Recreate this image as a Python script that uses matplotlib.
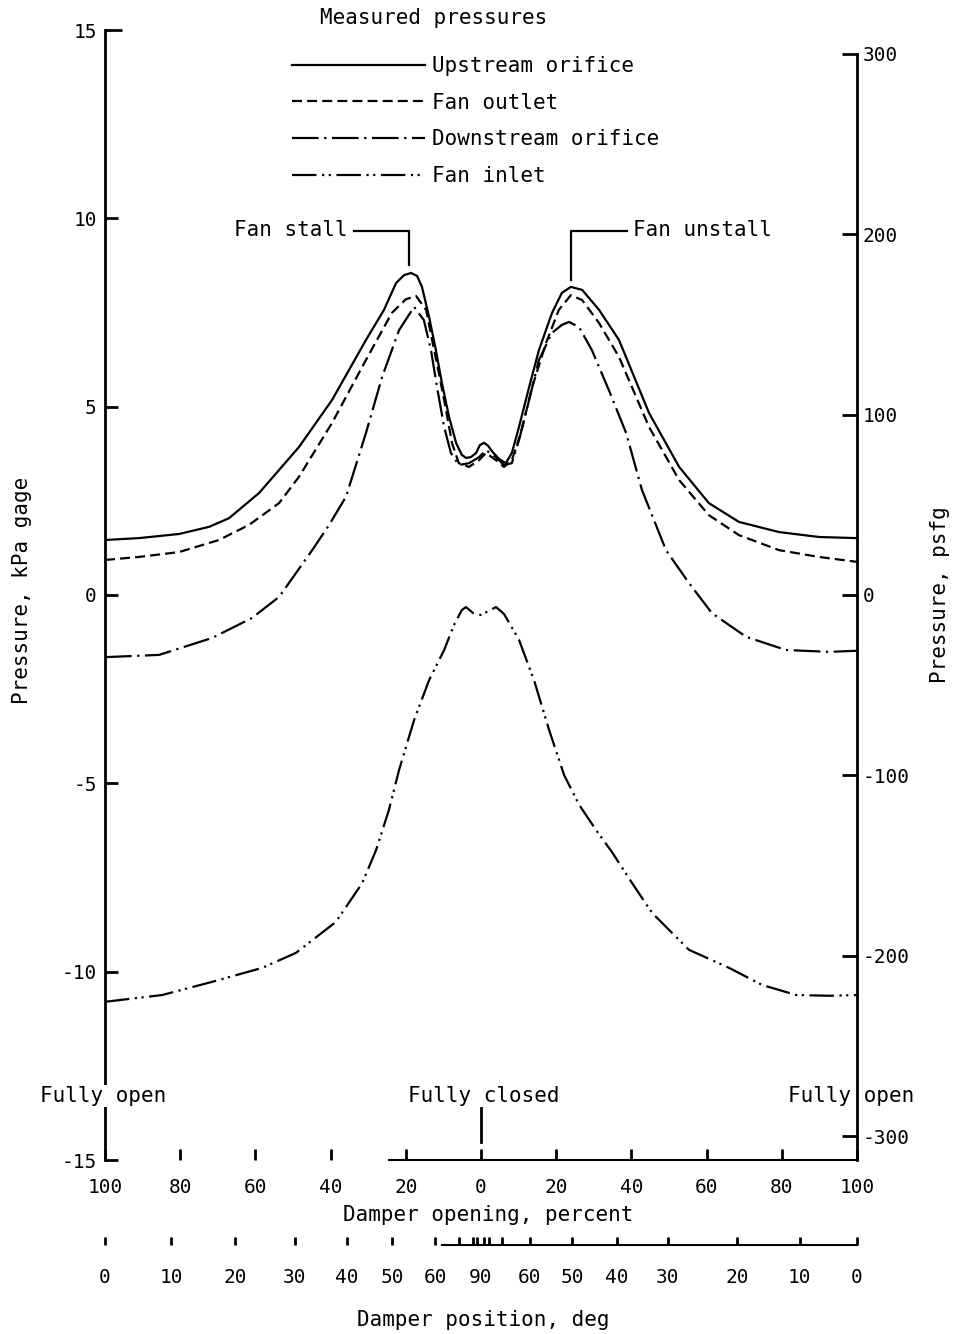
import matplotlib.pyplot as plt

plt.rcParams['font.family'] = ['DejaVu Sans Mono']
plt.rcParams['axes.unicode_minus'] = False

KPA_TO_PSF = 20.885

# damper opening, signed percent (left = opening side, right = closing back), pressures in kPa
upstream_x = [-100, -91.0, -80.3, -72.3, -67.0, -59.0, -48.4, -39.6, -30.6, -25.8,
              -22.6, -20.5, -18.6, -17.0, -15.7, -13.8, -12.0, -10.4, -8.5, -6.6,
              -5.1, -4.0, -2.7, -1.3, -0.3, 0.8, 1.9, 2.9, 4.8, 6.6,
              8.2, 10.1, 12.8, 15.4, 18.9, 21.5, 23.9, 26.9, 31.4, 36.7,
              44.7, 52.7, 60.6, 68.6, 79.3, 89.9, 100]
upstream_y = [1.46, 1.51, 1.62, 1.81, 2.04, 2.71, 3.93, 5.18, 6.77, 7.57,
              8.28, 8.49, 8.55, 8.47, 8.18, 7.38, 6.50, 5.63, 4.73, 4.03,
              3.72, 3.64, 3.66, 3.77, 3.98, 4.04, 3.96, 3.82, 3.61, 3.50,
              3.77, 4.46, 5.52, 6.50, 7.49, 8.02, 8.18, 8.10, 7.57, 6.77,
              4.83, 3.40, 2.44, 1.94, 1.67, 1.54, 1.51]

outlet_x = [-100, -91.0, -80.3, -69.7, -61.7, -53.7, -48.4, -39.6, -30.6, -23.7,
            -20.0, -17.3, -14.6, -13.0, -11.2, -9.3, -7.7, -5.9, -3.2, -0.5,
            1.3, 4.0, 6.1, 8.2, 10.6, 13.6, 17.3, 20.7, 23.9, 26.9,
            31.4, 36.7, 44.7, 52.7, 60.6, 68.6, 79.3, 89.9, 100]
outlet_y = [0.93, 1.01, 1.14, 1.46, 1.86, 2.44, 3.14, 4.57, 6.24, 7.49,
            7.85, 7.94, 7.57, 6.77, 5.89, 4.91, 4.03, 3.50, 3.40, 3.58,
            3.77, 3.58, 3.40, 3.58, 4.30, 5.52, 6.69, 7.57, 7.96, 7.83,
            7.22, 6.32, 4.46, 3.05, 2.12, 1.59, 1.19, 1.01, 0.88]

downstream_x = [-100, -85.6, -71.5, -60.9, -53.7, -44.9, -40.4, -35.9, -30.6, -26.3,
                -21.8, -17.8, -15.2, -13.3, -11.7, -9.8, -8.0, -5.9, -3.2, -0.5,
                1.3, 4.0, 6.1, 8.2, 10.1, 12.8, 15.4, 18.9, 21.5, 23.4,
                26.1, 29.5, 34.0, 38.6, 42.8, 46.0, 49.2, 55.3, 61.4, 70.5,
                81.1, 92.6, 100]
downstream_y = [-1.65, -1.59, -1.14, -0.61, -0.05, 1.19, 1.86, 2.61, 4.30, 5.79,
                7.03, 7.65, 7.30, 6.50, 5.52, 4.46, 3.77, 3.45, 3.50, 3.66,
                3.85, 3.66, 3.45, 3.50, 4.11, 5.18, 6.24, 6.96, 7.17, 7.25,
                7.11, 6.50, 5.44, 4.30, 2.79, 1.99, 1.19, 0.32, -0.48, -1.11,
                -1.46, -1.51, -1.48]

inlet_x = [-100, -84.8, -71.5, -58.2, -49.2, -38.6, -31.6, -27.9, -24.5, -21.8,
           -17.8, -13.8, -9.8, -7.2, -5.1, -4.0, -2.1, 0, 2.1, 4.0,
           6.1, 10.1, 14.1, 18.1, 22.1, 26.1, 30.6, 34.8, 40.2, 45.5,
           55.3, 66.0, 74.7, 83.8, 92.6, 100]
inlet_y = [-10.80, -10.62, -10.27, -9.90, -9.50, -8.68, -7.65, -6.77, -5.71, -4.65,
           -3.32, -2.26, -1.46, -0.80, -0.40, -0.32, -0.48, -0.53, -0.42, -0.32,
           -0.50, -1.19, -2.26, -3.58, -4.78, -5.57, -6.24, -6.82, -7.65, -8.44,
           -9.42, -9.90, -10.35, -10.62, -10.64, -10.62]

labels = ['Upstream orifice', 'Fan outlet', 'Downstream orifice', 'Fan inlet']

kpa_ticks = [15, 10, 5, 0, -5, -10, -15]
psf_ticks = [300, 200, 100, 0, -100, -200, -300]
pct_ticks = [-100, -80, -60, -40, -20, 0, 20, 40, 60, 80, 100]
deg_tick_pos = [-100, -82.4, -65.4, -49.5, -35.6, -23.7, -12.2, 0,
                13.0, 24.2, 36.2, 49.7, 68.1, 84.8, 100]
deg_tick_labels = ['0', '10', '20', '30', '40', '50', '60', '90',
                   '60', '50', '40', '30', '20', '10', '0']
deg_minor_pos = [-5.9, -2.1, -1.1, 0.8, 2.1, 5.6]

fig = plt.figure(figsize=(9.56, 13.34), dpi=100)
ax = fig.add_axes([105 / 956, 1 - 1160 / 1334, 752 / 956, 1130 / 1334])
ax.set_xlim(-100, 100)
ax.set_ylim(-15, 15)

lw = 1.6
ax.plot(upstream_x, upstream_y, color='black', lw=lw, label=labels[0])
ax.plot(outlet_x, outlet_y, color='black', lw=lw, ls=(0, (4.5, 2.3)), label=labels[1])
ax.plot(downstream_x, downstream_y, color='black', lw=lw, ls=(0, (12, 2.5, 1, 2.5)), label=labels[2])
ax.plot(inlet_x, inlet_y, color='black', lw=lw, ls=(0, (11, 2.5, 1, 2, 1, 2.5)), label=labels[3])

# spines
for s in ['top', 'right']:
    ax.spines[s].set_visible(False)
ax.spines['left'].set_linewidth(2)
ax.spines['bottom'].set_linewidth(1.5)
ax.spines['bottom'].set_bounds(-24.5, 100)

ax.set_yticks(kpa_ticks)
ax.set_yticklabels([str(t) for t in kpa_ticks])
ax.tick_params(axis='y', direction='in', length=9, width=2, pad=6, labelsize=14)
ax.yaxis.get_major_ticks()[0].tick1line.set_markersize(12)
ax.set_xticks(pct_ticks)
ax.set_xticklabels([str(abs(t)) for t in pct_ticks])
ax.tick_params(axis='x', direction='in', length=8, width=2, pad=13, labelsize=14)

# right axis in psfg
ax2 = ax.twinx()
ax2.set_ylim(-15 * KPA_TO_PSF, 15 * KPA_TO_PSF)
for s in ['top', 'left', 'bottom']:
    ax2.spines[s].set_visible(False)
ax2.spines['right'].set_linewidth(2)
ax2.spines['right'].set_bounds(-15 * KPA_TO_PSF, 300)
ax2.set_yticks(psf_ticks)
ax2.set_yticklabels([str(t) for t in psf_ticks])
ax2.tick_params(axis='y', direction='in', length=11, width=2, pad=4, labelsize=14)

# damper position axis (deg)
ax3 = ax.twiny()
ax3.set_xlim(-100, 100)
for s in ['top', 'left', 'right']:
    ax3.spines[s].set_visible(False)
ax3.spines['bottom'].set_visible(True)
ax3.spines['bottom'].set_position(('outward', 61))
ax3.spines['bottom'].set_bounds(-10.5, 100)
ax3.spines['bottom'].set_linewidth(1.5)
ax3.xaxis.set_ticks_position('bottom')
ax3.xaxis.set_label_position('bottom')
ax3.set_xticks(deg_tick_pos)
ax3.set_xticklabels(deg_tick_labels)
ax3.set_xticks(deg_minor_pos, minor=True)
ax3.tick_params(axis='x', which='major', direction='in', length=6, width=2, pad=17, labelsize=14)
ax3.tick_params(axis='x', which='minor', direction='in', length=6, width=2)
ax3.xaxis.get_major_ticks()[7].tick1line.set_visible(False)

# axis titles
fig.text(22 / 956, 1 - 590 / 1334, 'Pressure, kPa gage', rotation=90, ha='center', va='center', fontsize=15)
fig.text(940 / 956, 1 - 595 / 1334, 'Pressure, psfg', rotation=90, ha='center', va='center', fontsize=15)
fig.text(488 / 956, 1 - 1215 / 1334, 'Damper opening, percent', ha='center', va='center', fontsize=15)
fig.text(483 / 956, 1 - 1320 / 1334, 'Damper position, deg', ha='center', va='center', fontsize=15)

# end markers
txt_kw = dict(ha='center', va='center', fontsize=15, clip_on=False,
              bbox=dict(facecolor='white', edgecolor='none', pad=1))
ax.text(-100.5, -13.3, 'Fully open', **txt_kw)
ax.text(98.5, -13.3, 'Fully open', **txt_kw)
ax.text(0.8, -13.3, 'Fully closed', ha='center', va='center', fontsize=15)
ax.plot([0, 0], [-13.62, -14.52], color='black', lw=2, clip_on=False)

# stall annotations
ax.plot([-33.8, -19.1, -19.1], [9.66, 9.66, 8.75], color='black', lw=1.6)
ax.text(-35.6, 9.69, 'Fan stall', ha='right', va='center', fontsize=15)
ax.plot([23.9, 23.9, 38.8], [8.35, 9.66, 9.66], color='black', lw=1.6)
ax.text(40.4, 9.69, 'Fan unstall', ha='left', va='center', fontsize=15)

# legend
fig.text(320 / 956, 1 - 18 / 1334, 'Measured pressures', ha='left', va='center', fontsize=15)
ax.legend(loc='upper left', bbox_to_anchor=(292 / 956, 1 - 56 / 1334), bbox_transform=fig.transFigure,
          frameon=False, fontsize=15, handlelength=6.4, handletextpad=0.3, labelspacing=0.8,
          borderpad=0, borderaxespad=0)

fig.savefig('out.png', dpi=100)
